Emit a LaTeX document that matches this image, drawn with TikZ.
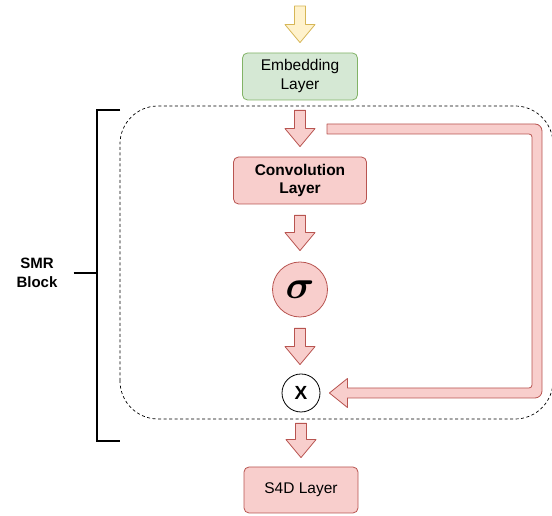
\documentclass[tikz,border=0pt]{standalone}
\usepackage{fontspec}
\setmainfont{Liberation Sans}
\usetikzlibrary{calc}

\definecolor{embfill}{HTML}{D5E8D4}
\definecolor{embline}{HTML}{82B366}
\definecolor{redfill}{HTML}{F8CECC}
\definecolor{redline}{HTML}{B85450}
\definecolor{inpfill}{HTML}{FFF2CC}
\definecolor{inpline}{HTML}{D6B656}

% hollow block arrow pointing down, from #2 to #3
\newcommand{\blockdown}[3]{%
  \draw[#1] let \p1=(#2), \p2=(#3) in
    (\x1-5.5pt,\y1) -- (\x1+5.5pt,\y1) -- (\x1+5.5pt,\y2+18pt) -- (\x1+15pt,\y2+18pt)
    -- (\x1,\y2) -- (\x1-15pt,\y2+18pt) -- (\x1-5.5pt,\y2+18pt) -- cycle;}

\begin{document}
\begin{tikzpicture}[x=1pt,y=1pt,
    layer/.style={draw=redline,fill=redfill,rounded corners=5pt,line width=0.8pt,
      minimum width=133pt,minimum height=47pt,align=center,
      font=\fontsize{15.5}{19}\selectfont},
    gate/.style={circle,draw,line width=0.8pt,inner sep=0pt},
    redarrow/.style={draw=redline,fill=redfill,line width=0.8pt,line join=round},
    inarrow/.style={draw=inpline,fill=inpfill,line width=0.8pt,line join=round},
    block/.style={draw=black,dash pattern=on 3pt off 2.5pt,line width=0.7pt,rounded corners=38pt},
    brace/.style={line width=1.6pt}]
  \useasboundingbox (0,0) rectangle (552,516);

  % SMR block
  \draw[block] (120,97) rectangle (553,410);
  \node[font=\fontsize{15}{19}\selectfont\bfseries,align=center,inner sep=0pt] (smr) at (37,243) {SMR\\Block};
  \coordinate (brk) at (97,243);
  \draw[brace] (120,406) -- (97,406) -- (97,75) -- (120,75);
  \draw[brace] ([xshift=16pt]smr.east) -- (brk);

  % layers
  \node[layer,draw=embline,fill=embfill,minimum width=115pt] (emb) at (300,439.5) {Embedding\\Layer};
  \node[layer,font=\fontsize{15.5}{19}\selectfont\bfseries] (conv) at (300,335.5) {Convolution\\Layer};
  \node[gate,draw=redline,fill=redfill,minimum size=55pt] (sig) at (300,226.5) {\scalebox{1.6}{\Huge\boldmath$\sigma$}};
  \node[gate,fill=white,minimum size=38pt,font=\fontsize{19}{19}\selectfont\bfseries] (mul) at (301,123) {X};
  \node[layer,minimum width=114pt,minimum height=46pt] (s4d) at (301,26) {S4D Layer};

  % arrows
  \coordinate (in) at (300,510);
  \blockdown{inarrow}{in}{[yshift=10pt]emb.north}
  \blockdown{redarrow}{[yshift=-10pt]emb.south}{[yshift=10pt]conv.north}
  \blockdown{redarrow}{[yshift=-11pt]conv.south}{[yshift=11pt]sig.north}
  \blockdown{redarrow}{[yshift=-11pt]sig.south}{[yshift=9pt]mul.north}
  \blockdown{redarrow}{[yshift=-11pt]mul.south}{[yshift=9pt]s4d.north}

  % skip connection
  \coordinate (fork) at (327,387);
  \draw[redarrow] let \p1=(fork), \p2=([xshift=9pt]mul.east) in
    (\x1,\y1+5pt) [rounded corners=7pt] -- (542,\y1+5pt) -- (542,\y2-5pt)
    [sharp corners] -- (\x2+18pt,\y2-5pt) -- (\x2+18pt,\y2-14.5pt) -- (\x2,\y2)
    -- (\x2+18pt,\y2+14.5pt) -- (\x2+18pt,\y2+5pt) [rounded corners=3pt] -- (532,\y2+5pt)
    -- (532,\y1-5pt) [sharp corners] -- (\x1,\y1-5pt) -- cycle;
\end{tikzpicture}
\end{document}
